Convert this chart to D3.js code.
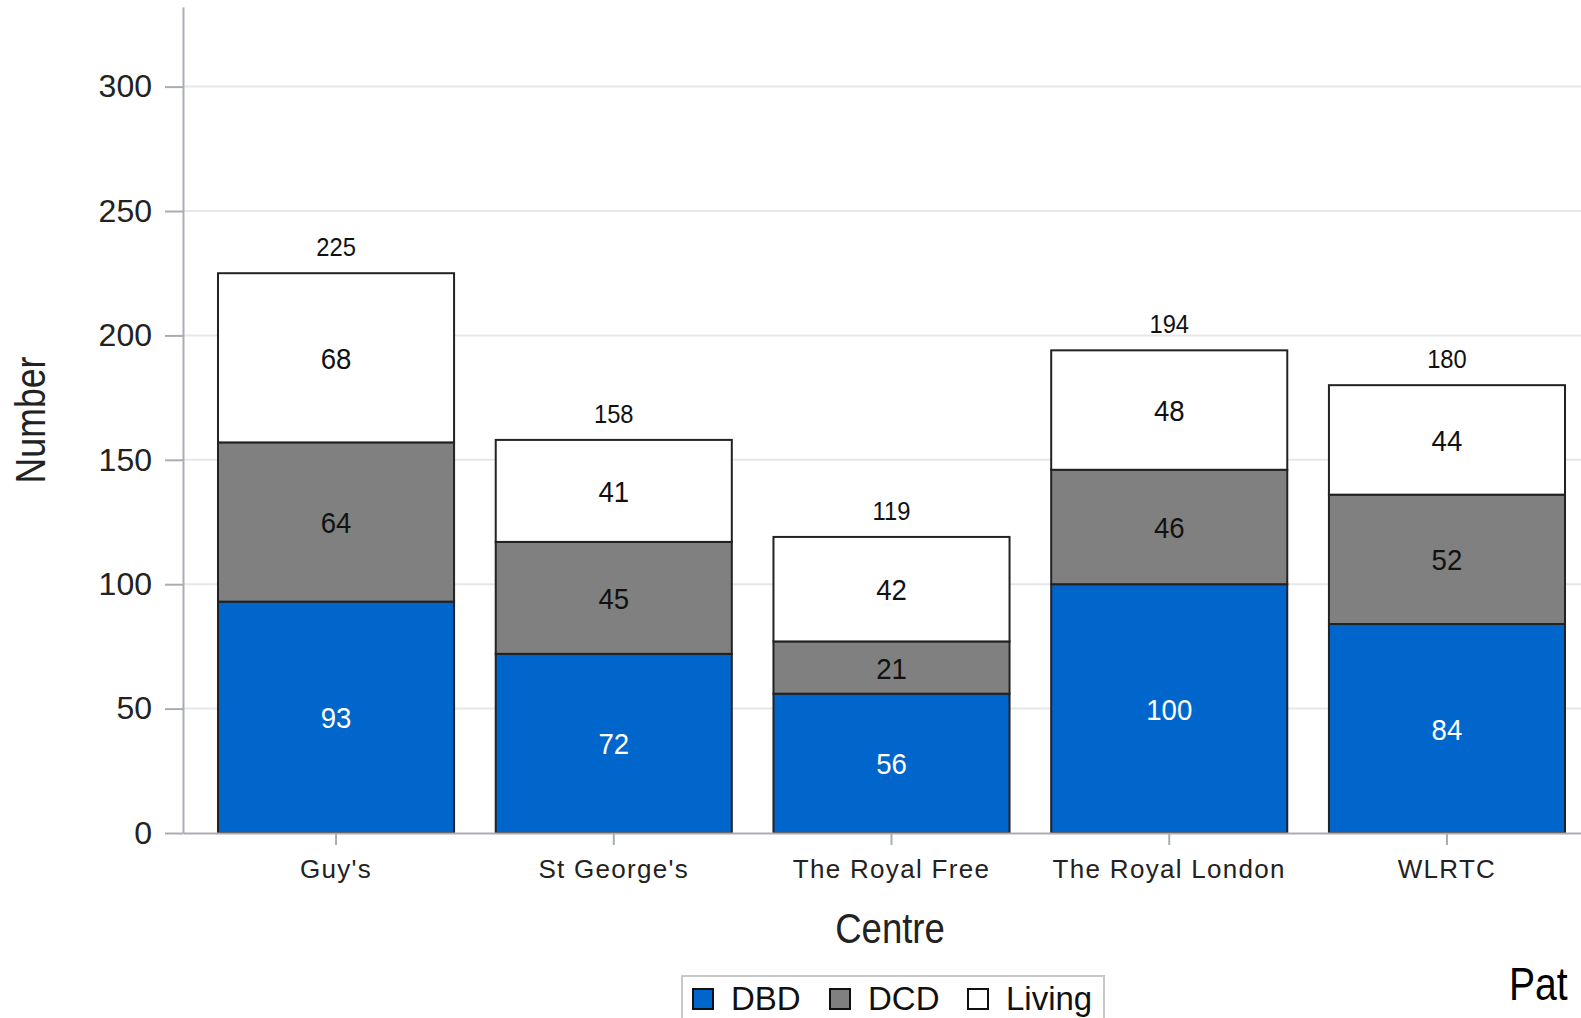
<!DOCTYPE html>
<html>
<head>
<meta charset="utf-8">
<script src="https://cdn.jsdelivr.net/npm/d3@7"></script>
<style>
  html, body { margin: 0; padding: 0; background: #fff; overflow: hidden; }
  svg { display: block; font-family: "Liberation Sans", Arial, sans-serif; }
</style>
</head>
<body>
<svg id="chart" width="1581" height="1018"></svg>
<script>
const categories = ["Guy's", "St George's", "The Royal Free", "The Royal London", "WLRTC"];
const seriesNames = ["DBD", "DCD", "Living"];
const dbd = [93, 72, 56, 100, 84];
const dcd = [64, 45, 21, 46, 52];
const living = [68, 41, 42, 48, 44];
const yTicks = [0, 50, 100, 150, 200, 250, 300];
const colors = { DBD: "#0066CC", DCD: "#808080", Living: "#FFFFFF" };
const textFill = { DBD: "#FFFFFF", DCD: "#111111", Living: "#111111" };

const rows = categories.map((c, i) => ({ centre: c, DBD: dbd[i], DCD: dcd[i], Living: living[i] }));
const totals = rows.map(r => r.DBD + r.DCD + r.Living);

const svg = d3.select("#chart");
const W = 1581;
const axisX = 183, yTop = 7, yBottom = 833;

const x = d3.scaleBand().domain(categories).range([axisX, 1600]).paddingInner(0.15).paddingOuter(0.126);
const y = d3.scaleLinear().domain([0, 332]).range([yBottom, yTop]);

// gridlines
svg.append("g").selectAll("line").data(yTicks.filter(t => t > 0)).join("line")
  .attr("x1", axisX).attr("x2", W)
  .attr("y1", d => y(d)).attr("y2", d => y(d))
  .attr("stroke", "#e6e7ea").attr("stroke-width", 2);

// stacked bars
const stack = d3.stack().keys(seriesNames)(rows);
const layers = svg.append("g").selectAll("g").data(stack).join("g")
  .attr("fill", d => colors[d.key]);
layers.selectAll("rect").data(d => d).join("rect")
  .attr("x", d => x(d.data.centre))
  .attr("width", x.bandwidth())
  .attr("y", d => y(d[1]))
  .attr("height", d => y(d[0]) - y(d[1]))
  .attr("stroke", "#222").attr("stroke-width", 2);

// segment labels
stack.forEach(layer => {
  svg.append("g").selectAll("text").data(layer).join("text")
    .attr("transform", d => `translate(${x(d.data.centre) + x.bandwidth() / 2},${(y(d[0]) + y(d[1])) / 2 + 11}) scale(0.92,1)`)
    .attr("text-anchor", "middle")
    .attr("font-size", 30)
    .attr("fill", textFill[layer.key])
    .text(d => d.data[layer.key]);
});

// total labels
svg.append("g").selectAll("text").data(rows).join("text")
  .attr("transform", (d, i) => `translate(${x(d.centre) + x.bandwidth() / 2},${y(totals[i]) - 17}) scale(0.95,1)`)
  .attr("text-anchor", "middle")
  .attr("font-size", 25)
  .attr("fill", "#111")
  .text((d, i) => totals[i]);

// y axis
const yAxis = svg.append("g").attr("transform", `translate(${axisX},0)`)
  .call(d3.axisLeft(y).tickValues(yTicks).tickSize(18).tickSizeOuter(0).tickPadding(13));
yAxis.select(".domain").attr("stroke", "#a9adb3").attr("stroke-width", 2);
yAxis.selectAll(".tick line").attr("stroke", "#a9adb3").attr("stroke-width", 2);
yAxis.selectAll(".tick text").attr("font-size", 32).attr("fill", "#222")
  .attr("font-family", "Liberation Sans, Arial, sans-serif");

// x axis
const xAxis = svg.append("g").attr("transform", `translate(0,${yBottom})`)
  .call(d3.axisBottom(x).tickSize(12).tickSizeOuter(0).tickPadding(15));
xAxis.select(".domain").attr("stroke", "#a9adb3").attr("stroke-width", 2);
xAxis.selectAll(".tick line").attr("stroke", "#a9adb3").attr("stroke-width", 2);
xAxis.selectAll(".tick text").attr("font-size", 26).attr("fill", "#222")
  .attr("letter-spacing", 1.3)
  .attr("font-family", "Liberation Sans, Arial, sans-serif");

// axis titles
svg.append("text")
  .attr("transform", `translate(890,943) scale(0.85,1)`)
  .attr("text-anchor", "middle").attr("font-size", 43).attr("fill", "#222")
  .text("Centre");
svg.append("text")
  .attr("transform", `translate(45,420) rotate(-90) scale(0.85,1)`)
  .attr("text-anchor", "middle").attr("font-size", 42).attr("fill", "#222")
  .text("Number");

// legend
const leg = svg.append("g");
leg.append("rect").attr("x", 682).attr("y", 976).attr("width", 422).attr("height", 60)
  .attr("fill", "#fff").attr("stroke", "#c8c8c8").attr("stroke-width", 2);
const legX = [693, 830, 968];
seriesNames.forEach((s, i) => {
  leg.append("rect").attr("x", legX[i]).attr("y", 989).attr("width", 20).attr("height", 20)
    .attr("fill", colors[s]).attr("stroke", "#111").attr("stroke-width", 2);
  leg.append("text").attr("x", legX[i] + 38).attr("y", 1010)
    .attr("font-size", 33).attr("fill", "#111").text(s);
});

// cut-off legend title at right edge (only "Pat" visible in reference)
svg.append("text")
  .attr("transform", `translate(1509,1000) scale(0.85,1)`)
  .attr("font-size", 46).attr("fill", "#000")
  .text("Pat");
</script>
</body>
</html>
